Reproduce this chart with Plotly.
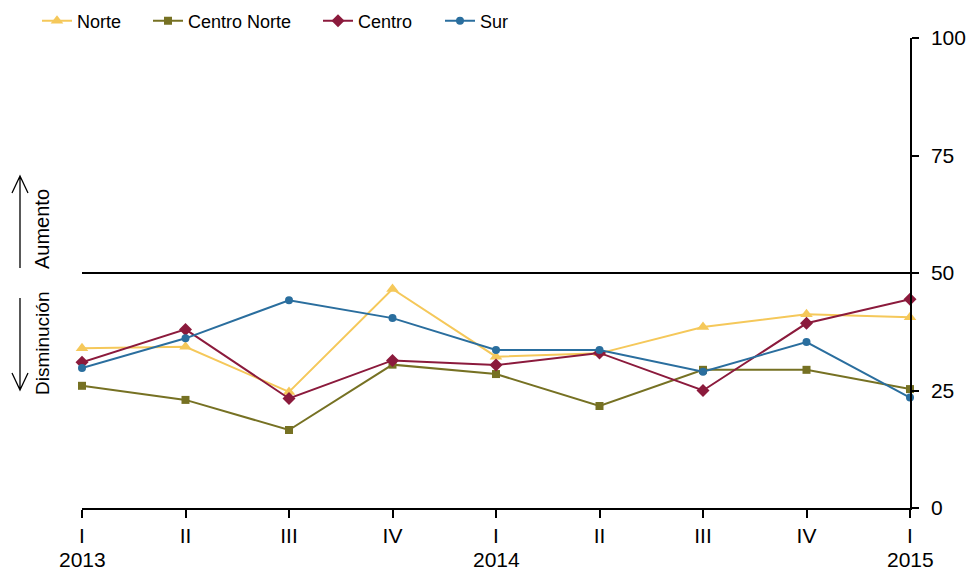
import plotly.graph_objects as go

quarters = ["I", "II", "III", "IV", "I", "II", "III", "IV", "I"]
years = ["2013", "", "", "", "2014", "", "", "", "2015"]
norte = [34.0, 34.3, 24.7, 46.6, 32.2, 32.9, 38.5, 41.2, 40.6]
centro_norte = [26.0, 23.0, 16.6, 30.5, 28.5, 21.7, 29.4, 29.4, 25.3]
centro = [31.0, 38.0, 23.3, 31.4, 30.4, 33.0, 25.0, 39.3, 44.4]
sur = [29.8, 36.1, 44.2, 40.4, 33.6, 33.6, 29.0, 35.3, 23.5]
y_ticks = [0, 25, 50, 75, 100]
threshold = 50

series = [
    ("Norte", norte, "#F5C85A", "triangle-up", 11, "legend", 37),
    ("Centro Norte", centro_norte, "#767123", "square", 8, "legend2", 148),
    ("Centro", centro, "#8B1A3C", "diamond", 10, "legend3", 318),
    ("Sur", sur, "#2A6E9E", "circle", 8, "legend4", 440),
]

L, R, T, B = 82, 57, 38, 63
W, H = 967, 571
pw, ph = W - L - R, H - T - B

def px(xp):
    return (xp - L) / pw

def py(yp):
    return (H - B - yp) / ph

x = list(range(len(quarters)))
fig = go.Figure()
legends = {}
for name, vals, color, sym, size, leg, lx in series:
    fig.add_trace(go.Scatter(
        x=x, y=vals, name=name, mode="lines+markers",
        line=dict(color=color, width=2),
        marker=dict(symbol=sym, size=size, color=color),
        cliponaxis=False, legend=leg,
    ))
    legends[leg] = dict(orientation="h", x=px(lx), y=py(21), xanchor="left", yanchor="middle",
                        font=dict(size=18), bgcolor="rgba(0,0,0,0)", itemwidth=30)

shapes = [
    dict(type="line", xref="paper", yref="y", x0=0, x1=1, y0=threshold, y1=threshold,
         line=dict(color="black", width=1.8)),
    # up arrow
    dict(type="path", xref="paper", yref="paper",
         path=f"M {px(20)},{py(268)} L {px(20)},{py(176)} M {px(12)},{py(193)} L {px(20)},{py(176)} L {px(28)},{py(193)}",
         line=dict(color="black", width=1.3)),
    # down arrow
    dict(type="path", xref="paper", yref="paper",
         path=f"M {px(20)},{py(298)} L {px(20)},{py(390)} M {px(12)},{py(373)} L {px(20)},{py(390)} L {px(28)},{py(373)}",
         line=dict(color="black", width=1.3)),
]

annotations = [
    dict(text="Aumento", xref="paper", yref="paper", x=px(42), y=py(229), showarrow=False,
         textangle=-90, font=dict(size=20, color="black"), xanchor="center", yanchor="middle"),
    dict(text="Disminución", xref="paper", yref="paper", x=px(42), y=py(344), showarrow=False,
         textangle=-90, font=dict(size=19, color="black"), xanchor="center", yanchor="middle"),
]
for xi, yr in zip(x, years):
    if yr:
        annotations.append(dict(text=yr, xref="x", yref="paper", x=xi, y=py(559), showarrow=False,
                                font=dict(size=21, color="black"), xanchor="center", yanchor="middle"))

fig.update_layout(
    width=W, height=H,
    margin=dict(l=L, r=R, t=T, b=B, autoexpand=False),
    paper_bgcolor="white", plot_bgcolor="white",
    font=dict(family="Liberation Sans, Arial, sans-serif", size=21, color="black"),
    showlegend=True,
    xaxis=dict(range=[0, 8], tickvals=x, ticktext=quarters, showgrid=False, zeroline=False,
               showline=True, linecolor="black", linewidth=1.5, ticks="outside", ticklen=8,
               tickcolor="black", tickwidth=1.5, fixedrange=True, tickfont=dict(size=21)),
    yaxis=dict(range=[0, 100], tickvals=y_ticks, side="right", showgrid=False, zeroline=False,
               showline=True, linecolor="black", linewidth=1.5, ticks="outside", ticklen=7,
               tickcolor="black", tickwidth=1.5, fixedrange=True, tickfont=dict(size=21),
               ticklabelstandoff=8),
    shapes=shapes,
    annotations=annotations,
    **legends,
)

fig.write_html("out.html", config={"displayModeBar": False},
               post_script="document.body.style.margin='0';document.body.style.padding='0';")
